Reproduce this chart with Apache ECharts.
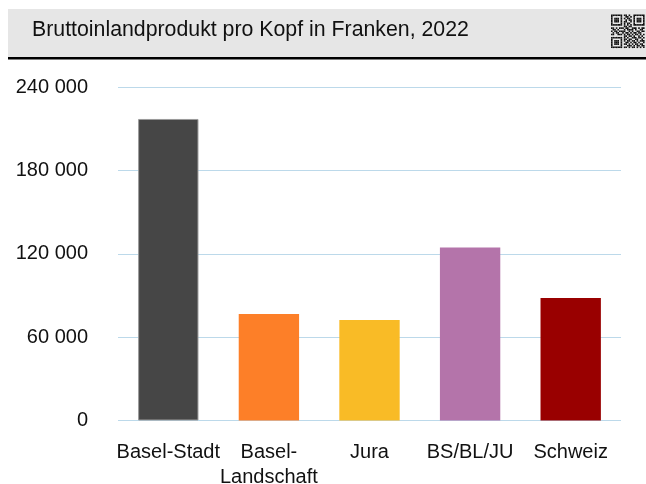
<!DOCTYPE html>
<html>
<head>
<meta charset="utf-8">
<script src="https://cdn.jsdelivr.net/npm/echarts@6/dist/echarts.min.js"></script>
<style>
  html, body { margin: 0; padding: 0; background: #fff; }
  #chart { width: 646px; height: 484px; }
</style>
</head>
<body>
<div id="chart"></div>
<script>
// Daten
var categories = ['Basel-Stadt', 'Basel-\nLandschaft', 'Jura', 'BS/BL/JU', 'Schweiz'];
var gdpPerHead = [217000, 76600, 72300, 124500, 88100];
var barColors = ['#464646', '#fd7f28', '#f9bb26', '#b474aa', '#990000'];
var yTicks = [0, 60000, 120000, 180000, 240000];
var titleText = 'Bruttoinlandprodukt pro Kopf in Franken, 2022';

function fmt(v) {
  // Tausendertrennzeichen als Leerzeichen
  return String(v).replace(/\B(?=(\d{3})+(?!\d))/g, ' ');
}

// QR-Symbol oben rechts (nur Dekoration)
var qrRows = [
  '111111101101001111111',
  '100000100110101000001',
  '101110101011001011101',
  '101110100101101011101',
  '101110101100101011101',
  '100000101011001000001',
  '111111101010101111111',
  '000000001101100000000',
  '110101110110011101011',
  '011010001011110100110',
  '101101111001010011011',
  '010110010110101101100',
  '110011101011010110101',
  '000000001101101001010',
  '111111101010011101101',
  '100000101101100110010',
  '101110101011011010111',
  '101110100110101101001',
  '101110101101010110110',
  '100000100011101011011',
  '111111101101011010101'
];
var qrChildren = [];
var m = 1.6;
qrRows.forEach(function(row, r) {
  for (var c = 0; c < row.length; c++) {
    if (row[c] === '1') {
      qrChildren.push({ type: 'rect', shape: { x: 611 + c * m, y: 14.5 + r * m, width: m, height: m }, style: { fill: '#111' } });
    }
  }
});

var chart = echarts.init(document.getElementById('chart'));

var option = {
  animation: false,
  backgroundColor: '#fff',
  textStyle: { fontFamily: 'Liberation Sans, Arial, sans-serif' },
  graphic: [
    { type: 'rect', z: 0, shape: { x: 8, y: 9, width: 638, height: 48 }, style: { fill: '#e6e6e6' } },
    { type: 'rect', z: 1, shape: { x: 8, y: 57, width: 638, height: 2.5 }, style: { fill: '#000' } },
    {
      type: 'text', left: 32, top: 19.5, z: 2,
      style: { text: titleText, fill: '#111', font: '21.3px "Liberation Sans", Arial, sans-serif' }
    },
    { type: 'group', z: 2, children: qrChildren }
  ],
  grid: { left: 118, right: 25, top: 87, bottom: 63.5, containLabel: false, outerBoundsMode: 'none' },
  xAxis: {
    type: 'category',
    data: categories,
    axisLine: { show: false },
    axisTick: { show: false },
    axisLabel: {
      color: '#111',
      fontSize: 20,
      lineHeight: 25,
      margin: 19,
      interval: 0
    }
  },
  yAxis: {
    type: 'value',
    min: yTicks[0],
    max: yTicks[yTicks.length - 1],
    interval: yTicks[1] - yTicks[0],
    axisLine: { show: false },
    axisTick: { show: false },
    splitLine: { lineStyle: { color: '#bcd9ea', width: 1 } },
    axisLabel: {
      color: '#111',
      fontSize: 20,
      margin: 30,
      formatter: function(v) { return fmt(v); }
    }
  },
  series: [{
    type: 'bar',
    barWidth: '60%',
    data: gdpPerHead.map(function(v, i) {
      return {
        value: v,
        itemStyle: {
          color: barColors[i],
          borderColor: i === 0 ? '#9a9a9a' : barColors[i],
          borderWidth: i === 0 ? 1 : 0
        }
      };
    })
  }]
};

chart.setOption(option);
</script>
</body>
</html>
